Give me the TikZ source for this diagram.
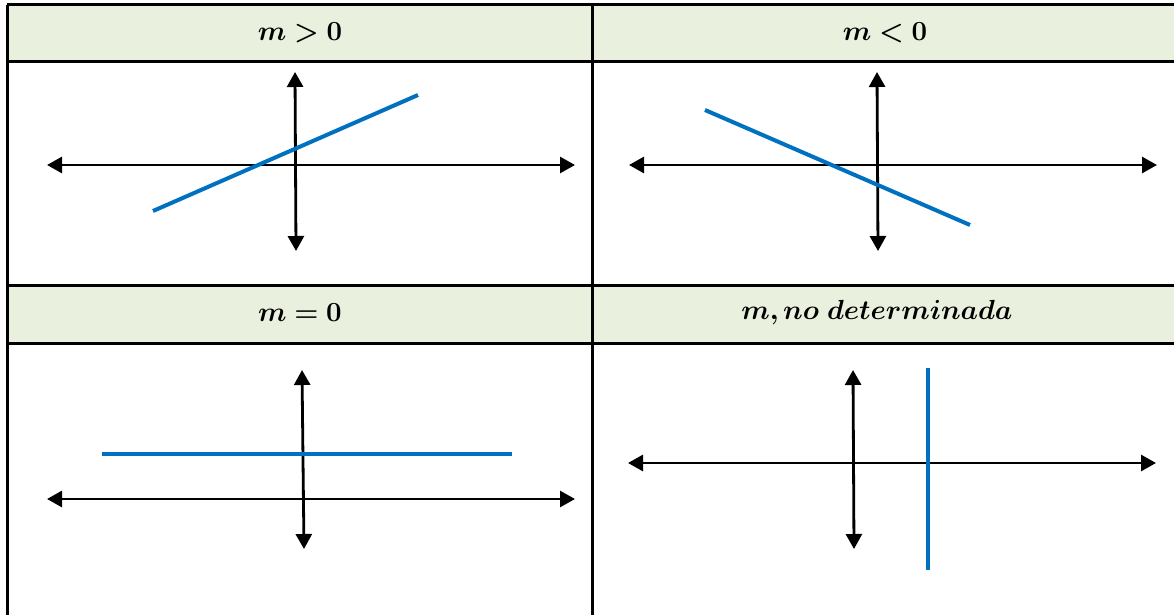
\documentclass[tikz,border=0pt]{standalone}
\usepackage{amsmath,bm}
\usetikzlibrary{arrows.meta}
\definecolor{hdrfill}{HTML}{E9F0DD}
\definecolor{lineblue}{HTML}{0070C0}
\tikzset{
  grid line/.style={line width=3pt, black},
  axis/.style={line width=2.8pt, black, {Triangle[length=15pt,width=16pt]}-{Triangle[length=15pt,width=16pt]}},
  graph line/.style={line width=4pt, lineblue},
  hdr/.style={font=\fontsize{24}{28}\selectfont, scale=1.11, anchor=center, inner sep=0pt}
}
\begin{document}
\begin{tikzpicture}[x=1pt,y=-1pt]
\useasboundingbox (0,0) rectangle (1174,615);
% header fills
\fill[hdrfill] (7,5) rectangle (1174,62);
\fill[hdrfill] (7,285) rectangle (1174,343);
% table lines
\draw[grid line] (7,5) -- (1174,5);
\draw[grid line] (7,62) -- (1174,62);
\draw[grid line] (7,285) -- (1174,285);
\draw[grid line] (7,343) -- (1174,343);
\draw[grid line] (7,5) -- (7,615);
\draw[grid line] (592,5) -- (592,615);
% headers
\node[hdr] (h1) at (300,33) {$\bm{m>0}$};
\node[hdr] (h2) at (885,33) {$\bm{m<0}$};
\node[hdr] (h3) at (300,313) {$\bm{m=0}$};
\node[hdr] (h4) at (877,313) {$\bm{m,no\ determinada}$};
% cell 1: m>0
\coordinate (a1l) at (47,165); \coordinate (a1r) at (575,165);
\coordinate (a1t) at (295,72); \coordinate (a1b) at (296,251);
\draw[axis] (a1l) -- (a1r);
\draw[axis] (a1t) -- (a1b);
\coordinate (l1a) at (153,211); \coordinate (l1b) at (418,95);
\draw[graph line] (l1a) -- (l1b);
% cell 2: m<0
\coordinate (a2l) at (629,165); \coordinate (a2r) at (1157,165);
\coordinate (a2t) at (877,72); \coordinate (a2b) at (878,251);
\draw[axis] (a2l) -- (a2r);
\draw[axis] (a2t) -- (a2b);
\coordinate (l2a) at (705,110); \coordinate (l2b) at (970,225);
\draw[graph line] (l2a) -- (l2b);
% cell 3: m=0
\coordinate (a3l) at (47,499); \coordinate (a3r) at (575,499);
\coordinate (a3t) at (302,370); \coordinate (a3b) at (304,549);
\draw[axis] (a3l) -- (a3r);
\draw[axis] (a3t) -- (a3b);
\coordinate (l3a) at (102,454); \coordinate (l3b) at (512,454);
\draw[graph line] (l3a) -- (l3b);
% cell 4: undefined
\coordinate (a4l) at (628,463); \coordinate (a4r) at (1156,463);
\coordinate (a4t) at (853,370); \coordinate (a4b) at (854,549);
\draw[axis] (a4l) -- (a4r);
\draw[axis] (a4t) -- (a4b);
\coordinate (l4a) at (928,368); \coordinate (l4b) at (928,570);
\draw[graph line] (l4a) -- (l4b);
\end{tikzpicture}
\end{document}
